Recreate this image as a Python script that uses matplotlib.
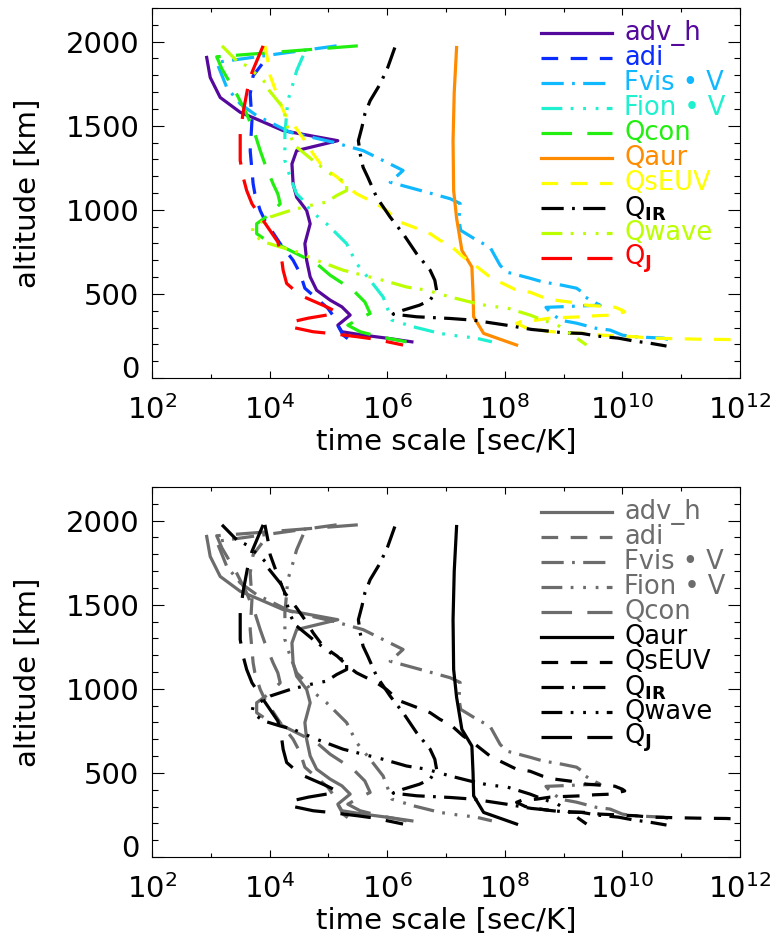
import numpy as np
import matplotlib
matplotlib.use('Agg')
import matplotlib.pyplot as plt
from matplotlib.ticker import FixedLocator, NullFormatter

plt.rcParams['font.family'] = ['DejaVu Sans']
plt.rcParams['mathtext.default'] = 'regular'
plt.rcParams['lines.scale_dashes'] = False

# ---------------- data (altitude in km, log10 of time scale in sec/K) -------------
labels = ['adv_h', 'adi', 'Fvis • V', 'Fion • V', 'Qcon', 'Qaur', 'QsEUV',
          r'Q$_{\mathbf{IR}}$', 'Qwave', r'Q$_{\mathbf{J}}$']

advh_alt = [1906, 1787, 1668, 1580, 1530, 1471, 1441, 1411, 1352, 1273, 1154, 1075, 996, 917,
            799, 700, 601, 522, 463, 423, 374, 314, 275, 255, 237, 215]
advh_lt = [2.93, 2.99, 3.16, 3.50, 3.84, 4.23, 4.69, 5.16, 4.46, 4.38, 4.40, 4.46, 4.63, 4.69,
           4.60, 4.63, 4.69, 4.80, 5.03, 5.23, 5.37, 5.16, 5.23, 5.59, 5.99, 6.42]

adi_alt = [1866, 1797, 1689, 1530, 1352, 1154, 1095, 996, 937, 799, 700, 621, 534, 482, 415,
           356, 300, 255, 215]
adi_lt = [3.87, 3.72, 3.67, 3.70, 3.67, 3.72, 3.75, 3.84, 3.92, 4.18, 4.40, 4.52, 4.60, 4.77,
          4.99, 5.11, 5.18, 5.25, 5.40]

fvis_alt = [1975, 1877, 1729, 1630, 1560, 1461, 1402, 1352, 1234, 1164, 1105, 1066, 1038, 940,
            878, 818, 777, 670, 630, 593, 571, 552, 534, 512, 492, 463, 433, 420, 400, 344, 326,
            314, 295, 285, 255, 245, 237, 215]
fvis_lt = [5.14, 3.10, 3.27, 3.50, 3.78, 4.35, 5.08, 5.59, 6.27, 6.05, 6.67, 7.07, 7.24, 7.22,
           7.25, 7.53, 7.75, 7.92, 8.03, 8.43, 8.65, 8.97, 9.22, 9.31, 9.33, 9.45, 9.62, 8.70,
           8.75, 8.94, 9.22, 9.35, 9.56, 9.79, 10.0, 10.2, 10.7, 10.9]

fion_alt = [1916, 1827, 1728, 1649, 1570, 1451, 1293, 1194, 1095, 1056, 996, 917, 799, 680,
            581, 482, 344, 304, 285, 265, 250, 238, 215]
fion_lt = [4.57, 4.46, 4.38, 4.31, 4.29, 4.26, 4.26, 4.35, 4.46, 4.57, 4.69, 4.97, 5.31, 5.48,
           5.71, 5.93, 6.08, 6.45, 6.67, 6.90, 7.20, 7.50, 7.78]

qcon_alt = [1975, 1910, 1837, 1688, 1570, 1451, 1352, 1273, 1154, 1095, 1036, 976, 917, 858,
            818, 779, 739, 680, 611, 522, 452, 384, 356, 314, 275, 245, 215]
qcon_lt = [5.50, 3.10, 3.19, 3.44, 3.61, 3.75, 3.84, 3.92, 4.06, 4.14, 4.18, 4.01, 3.78, 3.78,
           3.95, 4.23, 4.46, 4.80, 5.03, 5.42, 5.62, 5.71, 5.54, 5.33, 5.54, 5.88, 6.33]

qaur_alt = [1965, 1700, 1411, 1115, 950, 759, 660, 500, 364, 265, 196]
qaur_lt = [7.18, 7.14, 7.12, 7.13, 7.18, 7.27, 7.44, 7.46, 7.47, 7.64, 8.20]

qseuv_alt = [1975, 1886, 1797, 1720, 1619, 1570, 1481, 1411, 1333, 1253, 1194, 1135, 1095, 1036,
             996, 930, 890, 858, 818, 789, 720, 680, 600, 570, 522, 510, 480, 463, 450, 433,
             421, 403, 393, 374, 370, 364, 360, 356, 344, 338, 325, 300, 279, 269, 265, 255,
             245, 237, 231, 229, 225]
qseuv_lt = [3.92, 3.97, 4.01, 4.09, 4.20, 4.26, 4.46, 4.60, 4.74, 4.91, 5.15, 5.33, 5.48, 5.82,
            5.99, 6.20, 6.50, 6.73, 6.90, 7.07, 7.29, 7.46, 7.75, 7.92, 8.20, 8.43, 8.65, 8.85,
            9.14, 9.39, 9.87, 10.0, 10.04, 9.82, 9.53, 9.31, 9.02, 8.77, 8.54, 8.29, 8.20, 8.35,
            8.71, 8.97, 9.39, 9.62, 10.24, 10.47, 11.27, 11.77, 12.0]

qir_alt = [1965, 1847, 1748, 1649, 1570, 1491, 1411, 1333, 1253, 1194, 1075, 957, 858, 739, 641,
           581, 522, 463, 433, 403, 380, 364, 354, 344, 314, 304, 289, 279, 269, 265, 249, 237,
           221, 205, 190]
qir_lt = [6.13, 6.01, 5.88, 5.71, 5.62, 5.57, 5.51, 5.54, 5.59, 5.67, 5.82, 6.05, 6.27, 6.50,
          6.73, 6.81, 6.84, 6.73, 6.55, 6.27, 6.10, 6.50, 7.07, 7.46, 8.03, 8.20, 8.45, 8.74,
          8.99, 9.31, 9.58, 9.93, 10.18, 10.50, 10.75]

qwave_alt = [1975, 1886, 1856, 1787, 1748, 1720, 1607, 1500, 1441, 1382, 1293, 1194, 1164, 1115,
             1085, 1046, 1026, 996, 957, 897, 858, 809, 779, 759, 700, 641, 581, 541, 522, 482,
             452, 430, 415, 374, 344, 314, 275, 196]
qwave_lt = [3.19, 3.44, 3.61, 3.84, 3.95, 3.97, 4.23, 4.30, 4.35, 4.43, 4.74, 5.11, 5.31, 5.31,
            5.14, 4.97, 4.69, 4.35, 4.01, 3.72, 3.70, 3.90, 4.18, 4.40, 4.80, 5.25, 5.93, 6.33,
            6.67, 7.07, 7.41, 7.70, 8.05, 8.43, 8.65, 8.90, 9.07, 9.39]

qj_alt = [1975, 1817, 1728, 1580, 1451, 1293, 1194, 1115, 1036, 947, 809, 720, 641, 562, 492,
          423, 400, 384, 356, 334, 304, 275, 265, 245, 231, 196]
qj_lt = [3.89, 3.70, 3.63, 3.55, 3.50, 3.50, 3.55, 3.61, 3.70, 3.87, 4.14, 4.20, 4.23, 4.29,
         4.52, 4.97, 5.10, 5.14, 4.66, 4.38, 4.35, 4.74, 5.03, 5.50, 5.79, 6.27]

series_alt = [advh_alt, adi_alt, fvis_alt, fion_alt, qcon_alt, qaur_alt, qseuv_alt,
              qir_alt, qwave_alt, qj_alt]
series_lt = [advh_lt, adi_lt, fvis_lt, fion_lt, qcon_lt, qaur_lt, qseuv_lt,
             qir_lt, qwave_lt, qj_lt]

x_major = [1e2, 1e4, 1e6, 1e8, 1e10, 1e12]
x_major_labels = [r'$10^{2}$', r'$10^{4}$', r'$10^{6}$', r'$10^{8}$', r'$10^{10}$', r'$10^{12}$']
x_minor = [1e3, 1e5, 1e7, 1e9, 1e11]
y_major = [0, 500, 1000, 1500, 2000]

# ---------------- styles ----------------
solid = '-'
dashed = (0, (12, 9))
dashdot = (0, (16, 6, 2, 6))
dash3dot = (0, (15, 6, 2, 7, 2, 7, 2, 6))
longdash = (0, (22, 11))
styles = [solid, dashed, dashdot, dash3dot, longdash, solid, dashed, dashdot, dash3dot, longdash]

colors_top = ['#55089c', '#0a2cff', '#10b8ff', '#1ef0d0', '#22ee10', '#ff8c00', '#ffff00',
              '#000000', '#bbff00', '#ff0000']
grey = '#6c6c6c'
colors_bot = [grey] * 5 + ['#000000'] * 5

W, H = 776, 952
fig = plt.figure(figsize=(W / 100, H / 100), dpi=100)
ax1 = fig.add_axes([152 / W, 1 - 378 / H, 588 / W, 370 / H])
ax2 = fig.add_axes([152 / W, 1 - 857 / H, 588 / W, 370 / H])

LW = 2.3
FS = 21
LFS = 18.5


def setup(ax, colors):
    for alt, lt, ls, c in zip(series_alt, series_lt, styles, colors):
        ax.plot(10 ** np.array(lt), alt, color=c, lw=LW, linestyle=ls)
    ax.set_xscale('log')
    ax.set_xlim(1e2, 1e12)
    ax.set_ylim(0, 2200)
    ax.xaxis.set_major_locator(FixedLocator(x_major))
    ax.set_xticklabels(x_major_labels)
    ax.xaxis.set_minor_locator(FixedLocator(x_minor))
    ax.xaxis.set_minor_formatter(NullFormatter())
    ax.yaxis.set_major_locator(FixedLocator(y_major))
    ax.yaxis.set_minor_locator(FixedLocator(np.arange(0, 2201, 100)))
    ax.tick_params(which='both', direction='in', top=True, right=True, width=0.8,
                   labelsize=FS, colors='black')
    ax.tick_params(axis='x', which='major', length=5.3, pad=12.5)
    ax.tick_params(axis='x', which='minor', length=2.7)
    ax.tick_params(axis='y', which='major', length=8.5, pad=9)
    ax.tick_params(axis='y', which='minor', length=4.2)
    ax.get_yticklabels()[0].set_va('baseline')
    for s in ax.spines.values():
        s.set_linewidth(0.8)
    ax.set_xlabel('time scale [sec/K]', fontsize=FS, labelpad=2)
    ax.set_ylabel('altitude [km]', fontsize=FS)
    ax.yaxis.set_label_coords(-0.187, 0.5)
    # legend, drawn in axes coordinates
    for i, (lab, ls, c) in enumerate(zip(labels, styles, colors)):
        y = 0.9316 - i * 0.0676
        ax.plot([0.6616, 0.782], [y, y], transform=ax.transAxes, color=c, lw=LW,
                linestyle=ls, clip_on=False)
        ax.text(0.803, y, lab, transform=ax.transAxes, color=c, fontsize=LFS,
                va='center', ha='left')


setup(ax1, colors_top)
setup(ax2, colors_bot)

fig.savefig('out.png', dpi=100)
